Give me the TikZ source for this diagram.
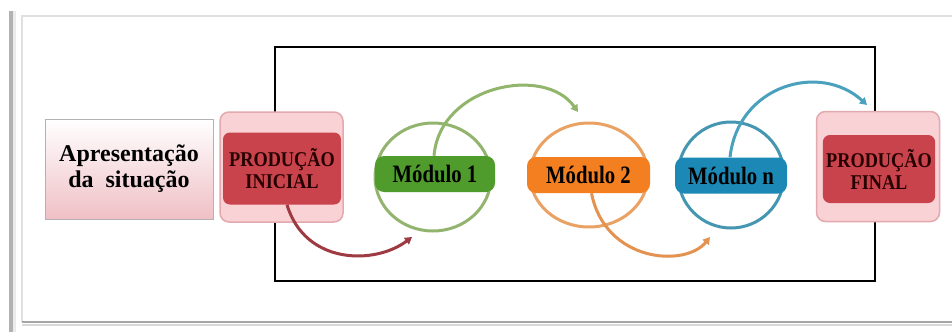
\documentclass[tikz,border=0pt]{standalone}
\usepackage{fontspec}
\setmainfont{Liberation Serif}
\newfontfamily\prodfont[FakeStretch=0.87]{Liberation Serif}
\newfontfamily\modfont[FakeStretch=0.83]{Liberation Serif}
\usetikzlibrary{calc,positioning,arrows.meta}

\definecolor{prodred}{HTML}{C8434B}
\definecolor{prodpink}{HTML}{F9D2D5}
\definecolor{prodedge}{HTML}{E2A9AE}
\definecolor{aprpink}{HTML}{EFC0C5}
\definecolor{modgreen}{HTML}{4F9B2B}
\definecolor{modorange}{HTML}{F47F20}
\definecolor{modblue}{HTML}{1B88B5}
\definecolor{ringgreen}{HTML}{93B46E}
\definecolor{ringorange}{HTML}{E9A264}
\definecolor{ringblue}{HTML}{4596B1}
\definecolor{arcred}{HTML}{9E3A42}
\definecolor{arcgreen}{HTML}{92B56C}
\definecolor{arcorange}{HTML}{E39250}
\definecolor{arcblue}{HTML}{4AA1BD}

\tikzset{
  prodbox/.style={draw=prodedge, line width=1.5pt, fill=prodpink, rounded corners=9pt,
    minimum width=123pt, minimum height=110pt},
  prodin/.style={fill=prodred, rounded corners=7pt, minimum width=118pt, minimum height=72pt,
    align=center, text=black!85!red, font=\prodfont\fontsize{21}{22}\selectfont\bfseries},
  modbar/.style={rounded corners=9pt, minimum height=36pt, inner sep=0pt,
    font=\modfont\fontsize{25}{26}\selectfont\bfseries},
  ring/.style={line width=3pt},
  flow/.style={line width=3pt, -{Triangle[length=7pt,width=8pt]}}
}

\begin{document}
\begin{tikzpicture}[x=1pt,y=-1pt]
\useasboundingbox (0,0) rectangle (952,332);
% frame of the page
\fill[white] (0,0) rectangle (952,332);
\fill[black!30] (9,11) rectangle (13,332);
\fill[black!8] (13,11) rectangle (16,332);
\draw[black!12, line width=1.5pt] (952,16) -- (22,16) -- (22,322);
\draw[black!35, line width=2.5pt] (22,322) -- (952,322);
\draw[black!15, line width=1.5pt] (22,325) -- (952,325);

\draw[line width=2pt] (275,47) rectangle (875,281);

\node[draw=black!30, line width=1pt, top color=white, bottom color=aprpink,
  minimum width=168pt, minimum height=100pt, align=center,
  font=\fontsize{24}{26}\selectfont\bfseries] (apr) at (129,169)
  {Apresentação\\da~~situação};

\node[prodbox] (ini) at (281.5,167) {};
\node[prodin] (iniin) at (282,168.5) {PRODUÇÃO\\INICIAL};
\node[prodbox] (fin) at (878,166.5) {};
\node[prodin, minimum width=112pt, minimum height=68pt] (finin) at (879,169) {PRODUÇÃO\\FINAL};

\draw[ring, ringgreen] (433,177) ellipse [x radius=58, y radius=54];
\draw[ring, ringorange] (589,175) ellipse [x radius=59, y radius=52];
\draw[ring, ringblue] (731,175) ellipse [x radius=53, y radius=53];

\coordinate (to1) at (412,237);
\coordinate (to2) at (578,112);
\coordinate (to3) at (710,237);
\coordinate (to4) at (867,105);

\node[modbar, fill=modgreen, minimum width=120pt] (m1) at (435,174) {Módulo 1};
\node[modbar, fill=modorange, minimum width=123pt] (m2) at (588.5,175) {Módulo 2};
\node[modbar, fill=modblue, minimum width=112pt] (mn) at (731,175.5) {Módulo n};

\draw[flow, arcred] ($(iniin.south)+(5,0)$) .. controls (305,265) and (375,265) .. (to1);
\draw[flow, arcgreen] ($(m1.north)+(-1,0)$) .. controls (440,85) and (545,65) .. (to2);
\draw[flow, arcorange] ($(m2.south)+(3,0)$) .. controls (605,262) and (685,268) .. (to3);
\draw[flow, arcblue] ($(mn.north)+(-1,0)$) .. controls (738,85) and (820,62) .. (to4);
\end{tikzpicture}
\end{document}
